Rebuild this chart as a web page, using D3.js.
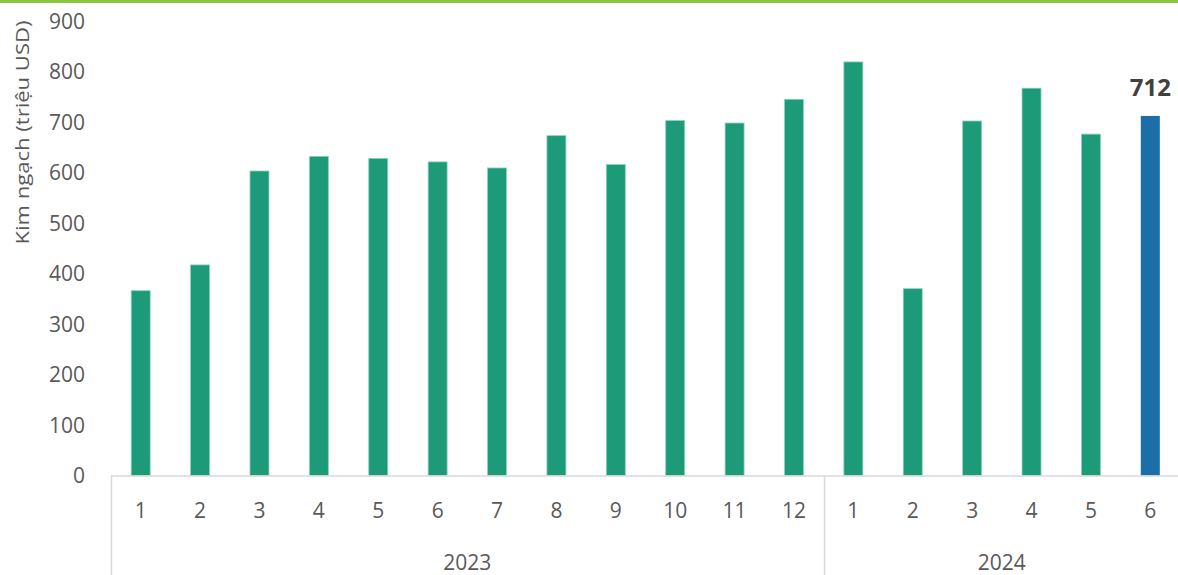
<!DOCTYPE html>
<html>
<head>
<meta charset="utf-8">
<script src="https://cdn.jsdelivr.net/npm/d3@7"></script>
<style>
  body { margin: 0; background: #fff; }
  svg { display: block; font-family: "Open Sans", sans-serif; }
</style>
</head>
<body>
<div id="chart"></div>
<script>
// Monthly values (million USD)
const years = ["2023", "2024"];
const months2023 = ["1", "2", "3", "4", "5", "6", "7", "8", "9", "10", "11", "12"];
const months2024 = ["1", "2", "3", "4", "5", "6"];
const values2023 = [366, 417, 603, 632, 628, 621, 609, 673, 616, 703, 698, 745];
const values2024 = [819, 370, 702, 767, 676, 712];
const yTicks = [0, 100, 200, 300, 400, 500, 600, 700, 800, 900];

const width = 1178, height = 575;
const margin = {top: 21, right: -2, bottom: 99, left: 111};

const data = [
  ...months2023.map((m, i) => ({year: "2023", month: m, value: values2023[i]})),
  ...months2024.map((m, i) => ({year: "2024", month: m, value: values2024[i]}))
].map((d, i) => ({...d, key: i}));
const lastKey = data.length - 1;

const svg = d3.select("#chart").append("svg")
  .attr("width", width)
  .attr("height", height);

// green rule across the top
svg.append("rect")
  .attr("x", 0).attr("y", 0)
  .attr("width", width).attr("height", 3)
  .attr("fill", "#8cc540");

const x = d3.scaleBand()
  .domain(data.map(d => d.key))
  .range([margin.left, width - margin.right])
  .paddingInner(0.68)
  .paddingOuter(0.34);

const y = d3.scaleLinear()
  .domain([0, 900])
  .range([height - margin.bottom - 0.5, margin.top]);

const y0 = y(0);

// y tick labels
svg.append("g")
  .selectAll("text")
  .data(yTicks)
  .join("text")
  .attr("x", 85)
  .attr("y", d => y(d))
  .attr("dy", "0.36em")
  .attr("text-anchor", "end")
  .attr("font-size", 21)
  .attr("fill", "#595959")
  .text(d => d);

// y axis title (Calibri-like width, so stretch to the reference span)
svg.append("text")
  .attr("transform", `translate(29,${(margin.top + 244) / 2}) rotate(-90)`)
  .attr("text-anchor", "middle")
  .attr("font-size", 18)
  .attr("textLength", 224)
  .attr("lengthAdjust", "spacingAndGlyphs")
  .attr("fill", "#595959")
  .text("Kim ngạch (triệu USD)");

// bars
svg.append("g")
  .selectAll("rect")
  .data(data)
  .join("rect")
  .attr("x", d => x(d.key))
  .attr("y", d => y(d.value))
  .attr("width", x.bandwidth())
  .attr("height", d => y0 - y(d.value))
  .attr("fill", d => d.key === lastKey ? "#1c6ea8" : "#1d9b78")
  .attr("stroke", d => d.key === lastKey ? "none" : "#8fd3bd")
  .attr("stroke-width", 0.8);

// data label for the last bar
const last = data[lastKey];
svg.append("text")
  .attr("x", x(last.key) + x.bandwidth() / 2)
  .attr("y", y(last.value) - 20)
  .attr("text-anchor", "middle")
  .attr("font-size", 24)
  .attr("font-weight", "bold")
  .attr("fill", "#404040")
  .text(last.value);

// category axis
const axisColor = "#d9d9d9";
svg.append("line")
  .attr("x1", margin.left).attr("x2", width)
  .attr("y1", y0 + 0.5).attr("y2", y0 + 0.5)
  .attr("stroke", axisColor)
  .attr("stroke-width", 1.5);

svg.append("g")
  .selectAll("text")
  .data(data)
  .join("text")
  .attr("x", d => x(d.key) + x.bandwidth() / 2)
  .attr("y", 518)
  .attr("text-anchor", "middle")
  .attr("font-size", 21)
  .attr("fill", "#595959")
  .text(d => d.month);

// year groups with separators
const step = x.step();
const groups = years.map(yr => {
  const keys = data.filter(d => d.year === yr).map(d => d.key);
  const x0 = x(keys[0]) - (step - x.bandwidth()) / 2;
  const x1 = x(keys[keys.length - 1]) + x.bandwidth() + (step - x.bandwidth()) / 2;
  return {year: yr, x0, x1};
});

svg.append("g")
  .selectAll("line")
  .data(groups)
  .join("line")
  .attr("x1", d => Math.round(d.x0) + 0.5)
  .attr("x2", d => Math.round(d.x0) + 0.5)
  .attr("y1", y0)
  .attr("y2", height)
  .attr("stroke", axisColor)
  .attr("stroke-width", 1.5);

svg.append("g")
  .selectAll("text")
  .data(groups)
  .join("text")
  .attr("x", d => (d.x0 + d.x1) / 2)
  .attr("y", 570)
  .attr("text-anchor", "middle")
  .attr("font-size", 21)
  .attr("fill", "#595959")
  .text(d => d.year);
</script>
</body>
</html>
